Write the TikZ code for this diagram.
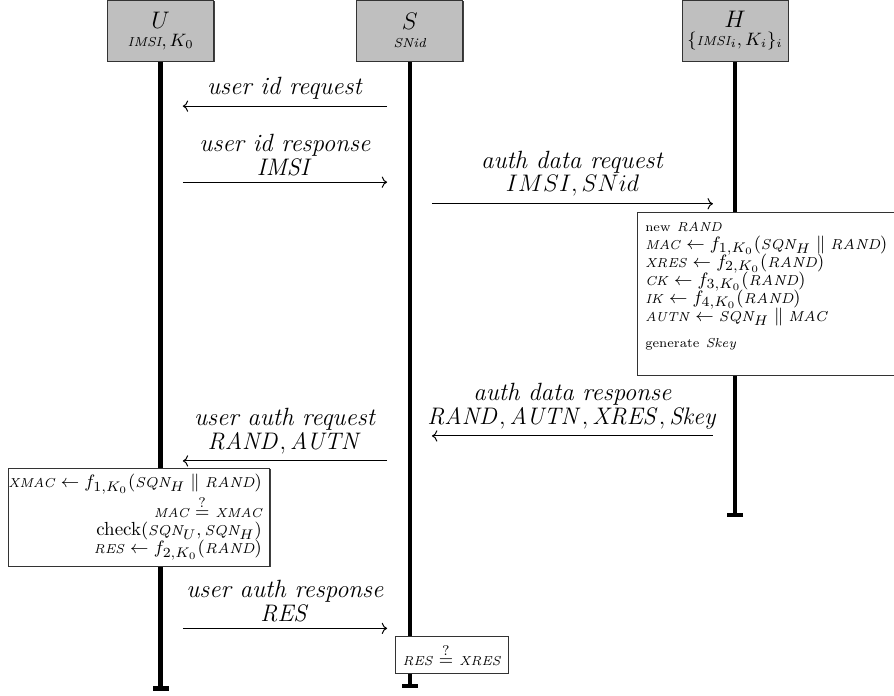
\documentclass[tikz,border=0pt]{standalone}
\usepackage{amsmath}
\usetikzlibrary{arrows, arrows.meta, calc, shadows}

\newcommand{\vn}[1]{\text{\fontsize{6.5}{7}\selectfont\itshape #1}}
\newcommand{\vm}[1]{\text{\fontsize{7.2}{7}\selectfont\itshape #1}}
\newcommand{\vt}[1]{\text{\fontsize{6.5}{7}\selectfont #1}}

\tikzset{
    my-entity/.style={
        draw=black!80, fill=black!25, anchor=north, align=center,
        minimum width=1.87cm, minimum height=1.075cm, inner sep=1pt,
        font=\fontsize{9}{9}\selectfont,
        general shadow={shadow xshift=.5pt, shadow yshift=-.5pt, fill=black!75}
    },
    my-lifeline/.style={
        line width=2.2pt, -{Bar[width=8pt]}
    },
    my-msg/.style={
        ->, line width=.5pt
    },
    my-msg-label/.style={
        midway, above, align=center, font=\fontsize{12.5}{12}\selectfont
    },
    my-process/.style={
        draw=black!80, fill=white, font=\fontsize{9.5}{9}\selectfont,
        general shadow={shadow xshift=.5pt, shadow yshift=-.5pt, fill=black!75}
    },
}

\begin{document}
\begin{tikzpicture}

        \useasboundingbox (0,0) rectangle (15.75,-12.26);

        % ENTITIES
        \node[my-entity] (U) at (2.83,0)  {{\fontsize{12.8}{12}\selectfont $U$}\\$\vn{IMSI}, K_0$};
        \node[my-entity] (S) at (7.22,0)  {{\fontsize{12.8}{12}\selectfont $S$}\\\vn{SNid}};
        \node[my-entity] (H) at (12.95,0) {{\fontsize{12.8}{12}\selectfont $H$}\\$\{\vn{IMSI}_i, K_i\}_i$};

        % LIFELINES
        \coordinate[] (UEND) at (2.83,-12.17);
        \coordinate[] (SEND) at (7.22,-12.12);
        \coordinate[] (HEND) at (12.95,-9.11);
        \draw[my-lifeline] (U.south) -- (UEND);
        \draw[my-lifeline] (S.south) -- (SEND);
        \draw[my-lifeline] (H.south) -- (HEND);

        % USER ID REQUEST
        \coordinate[] (M1S) at (6.82,-1.87);
        \coordinate[] (M1U) at (3.22,-1.87);
        \draw[my-msg] (M1S) -- node[my-msg-label] {\textit{user id request}} (M1U);

        % USER ID RESPONSE
        \coordinate[] (M2U) at (3.22,-3.21);
        \coordinate[] (M2S) at (6.82,-3.21);
        \draw[my-msg] (M2U) -- node[my-msg-label] {\textit{user id response}\\$\mathit{IMSI}$} (M2S);

        % AUTH DATA REQUEST
        \coordinate[] (M3S) at (7.61,-3.59);
        \coordinate[] (M3H) at (12.56,-3.59);
        \draw[my-msg] (M3S) -- node[my-msg-label] {\textit{auth data request}\\$IMSI, SNid$} (M3H);

        % AUTH DATA RESPONSE
        \coordinate[] (M4H) at (12.56,-7.68);
        \coordinate[] (M4S) at (7.61,-7.68);
        \draw[my-msg] (M4H) -- node[my-msg-label] {\textit{auth data response}\\$\mathit{RAND}, \mathit{AUTN}, \mathit{XRES}, \mathit{Skey}$} (M4S);

        % USER AUTH REQUEST
        \coordinate[] (M5S) at (6.82,-8.12);
        \coordinate[] (M5U) at (3.22,-8.12);
        \draw[my-msg] (M5S) -- node[my-msg-label] {\textit{user auth request}\\$\mathit{RAND}, \mathit{AUTN}$} (M5U);

        % USER AUTH RESPONSE
        \coordinate[] (M6U) at (3.22,-11.07);
        \coordinate[] (M6S) at (6.82,-11.07);
        \draw[my-msg] (M6U) -- node[my-msg-label] {\textit{user auth response}\\$\mathit{RES}$} (M6S);

        % PROCESSING AT H
        \node[my-process, anchor=north west, align=left, inner xsep=4pt, inner ysep=5pt,
              font={\fontsize{9.5}{9}\selectfont\lineskiplimit=-10pt}] (HPROC) at (11.22,-3.735) {
            \vt{new} \vn{RAND}\\
            \vn{MAC} $\leftarrow f_{1,K_0}(\vm{SQN}_H \;\|\; \vm{RAND})$\\
            \vn{XRES} $\leftarrow f_{2,K_0}(\vm{RAND})$\\
            \vn{CK} $\leftarrow f_{3,K_0}(\vm{RAND})$\\
            \vn{IK} $\leftarrow f_{4,K_0}(\vm{RAND})$\\
            \vn{AUTN} $\leftarrow \vm{SQN}_H \;\|\; \vm{MAC}$\\[4pt]
            \vt{generate} \vn{Skey}\rule[-9pt]{0pt}{9pt}
        };

        % PROCESSING AT U
        \node[my-process, anchor=north west, align=right, inner xsep=4pt, inner ysep=3pt] (UPROC) at (0.141,-8.246) {
            \hspace*{-4pt}\vn{XMAC} $\leftarrow f_{1,K_0}(\vm{SQN}_H \;\|\; \vm{RAND})$\\
            \vn{MAC} $\stackrel{?}{=}$ \vn{XMAC}\\
            check$(\vm{SQN}_U, \vm{SQN}_H)$\\
            \vn{RES} $\leftarrow f_{2,K_0}(\vm{RAND})$
        };

        % PROCESSING AT S
        \node[my-process, minimum width=1.99cm, minimum height=.65cm] (SPROC) at (7.955,-11.54) {\vn{RES} $\stackrel{?}{=}$ \vn{XRES}};

    \end{tikzpicture}
\end{document}
